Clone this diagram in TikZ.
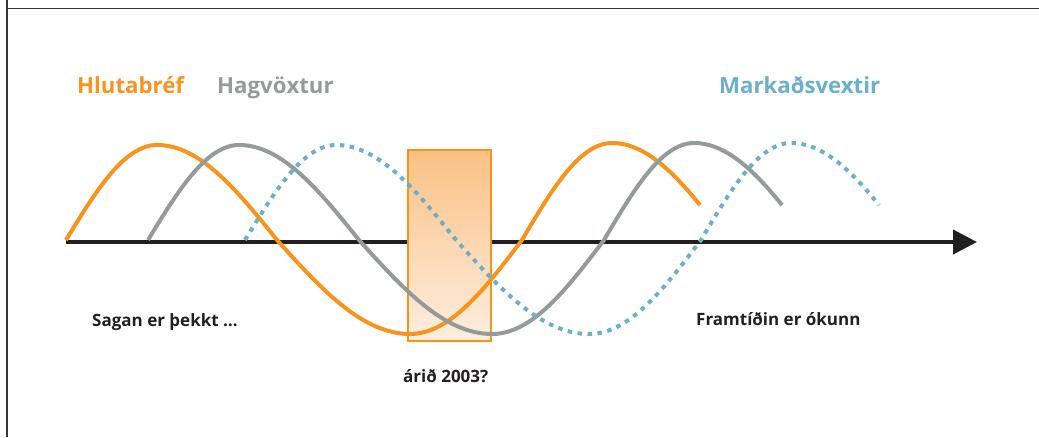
\documentclass[tikz,border=0pt]{standalone}
\usepackage{fontspec}
\setmainfont{Open Sans}
\usetikzlibrary{arrows.meta}
\definecolor{stockorange}{HTML}{F7941D}
\definecolor{growthgray}{HTML}{939C9B}
\definecolor{rateblue}{HTML}{6AAFCB}
\definecolor{inkdark}{HTML}{231F20}
\definecolor{boxtop}{HTML}{FBC184}
\definecolor{boxbottom}{HTML}{FDEEDF}
\tikzset{
  wave/.style={line width=4pt, line join=round},
  stockwave/.style={wave, draw=stockorange},
  growthwave/.style={wave, draw=growthgray},
  ratewave/.style={wave, draw=rateblue, dash pattern=on 4.5pt off 5.5pt},
  title/.style={anchor=base west, inner sep=0pt, font=\bfseries\fontsize{22.2}{26}\selectfont},
  caption/.style={anchor=base west, inner sep=0pt, text=inkdark, font=\bfseries\fontsize{17}{20}\selectfont},
  frameline/.style={draw=inkdark!90, line width=1.4pt},
}
% one cycle and a bit of a business-cycle wave, drawn from its first zero crossing
\newcommand{\cyclewave}[1]{%
  \draw[#1] (66,240) sin (157,145) cos (277,240) sin (410,334) cos (522,240) sin (612,143)
    -- plot[domain=612:700, samples=30] (\x, {240-97*cos((\x-612)*90/115)});}
\begin{document}
\begin{tikzpicture}[x=1pt, y=-1pt]
  \useasboundingbox (0,0) rectangle (1039,437);
  % page frame
  \coordinate (ftop) at (7,0);
  \coordinate (fbottom) at (7,437);
  \coordinate (fleft) at (7,8.5);
  \coordinate (fright) at (1039,8.5);
  \draw[frameline] (ftop) -- (fbottom);
  \draw[frameline] (fleft) -- (fright);
  % time axis
  \coordinate (tstart) at (66,242);
  \coordinate (tend) at (977,242);
  \draw[line width=4pt, draw=inkdark, -{Triangle[length=24pt, width=24pt]}] (tstart) -- (tend);
  % the present year
  \node (now) [draw=stockorange, line width=1.5pt, top color=boxtop, bottom color=boxbottom,
    minimum width=83pt, minimum height=191pt, inner sep=0pt] at (449.5,245.5) {};
  % the three cycles
  \cyclewave{stockwave}
  \begin{scope}[xshift=82pt]\cyclewave{growthwave}\end{scope}
  \begin{scope}[xshift=179pt]\cyclewave{ratewave}\end{scope}
  % labels
  \node (lstock) [title, text=stockorange] at (77,93) {Hlutabréf};
  \node (lgrowth) [title, text=growthgray] at (217,93) {Hagvöxtur};
  \node (lrate) [title, text=rateblue] at (719,93) {Markaðsvextir};
  \node (past) [caption] at (92,326) {Sagan er þekkt …};
  \node (year) [caption] at (403,382) {árið 2003?};
  \node (future) [caption] at (696,325) {Framtíðin er ókunn};
\end{tikzpicture}
\end{document}
